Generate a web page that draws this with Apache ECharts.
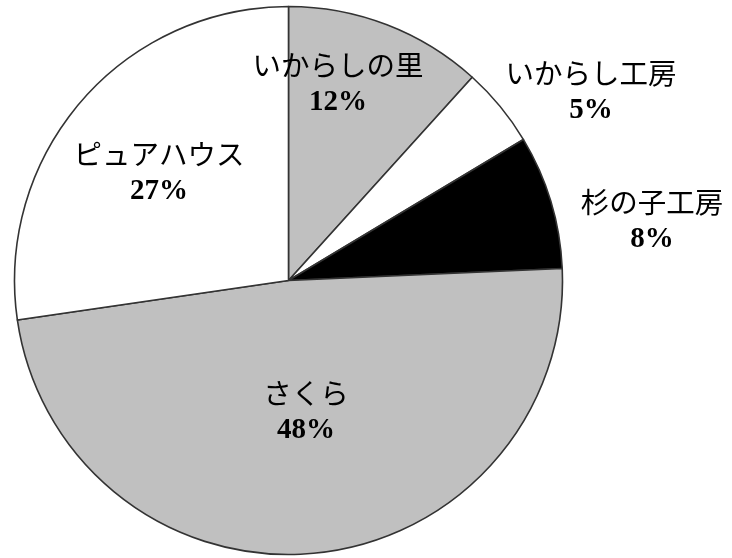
<!DOCTYPE html>
<html>
<head>
<meta charset="utf-8">
<script src="https://cdn.jsdelivr.net/npm/echarts@6/dist/echarts.min.js"></script>
<style>html,body{margin:0;padding:0;background:#fff}#c{width:732px;height:558px}</style>
</head>
<body>
<div id="c"></div>
<script>
const categories = ['いからしの里', 'いからし工房', '杉の子工房', 'さくら', 'ピュアハウス'];
const values = [11.7, 4.7, 7.9, 48.4, 27.3];
const colors = ['#c0c0c0', '#ffffff', '#000000', '#c0c0c0', '#ffffff'];
const labelX = [338, 591, 652, 306, 159];
const labelY = [84, 92, 221, 412, 173];

const chart = echarts.init(document.getElementById('c'));
chart.setOption({
  animation: false,
  series: [{
    type: 'pie',
    center: [288.5, 280.5],
    radius: [0, 274],
    startAngle: 90,
    clockwise: true,
    percentPrecision: 0,
    avoidLabelOverlap: false,
    itemStyle: { borderColor: '#333333', borderWidth: 1.6 },
    label: {
      show: true,
      position: 'inside',
      formatter: p => '{n|' + p.name + '}\n{p|' + p.percent + '%}',
      rich: {
        n: { fontFamily: 'Noto Sans CJK JP', fontSize: 28.5, color: '#000', lineHeight: 38, align: 'center' },
        p: { fontFamily: 'Liberation Serif', fontWeight: 'bold', fontSize: 29, color: '#000', lineHeight: 38, align: 'center' }
      }
    },
    labelLine: { show: false },
    labelLayout: p => ({ x: labelX[p.dataIndex], y: labelY[p.dataIndex], align: 'center', verticalAlign: 'middle' }),
    emphasis: { disabled: true },
    data: categories.map((c, i) => ({ name: c, value: values[i], itemStyle: { color: colors[i] } }))
  }]
});
</script>
</body>
</html>
